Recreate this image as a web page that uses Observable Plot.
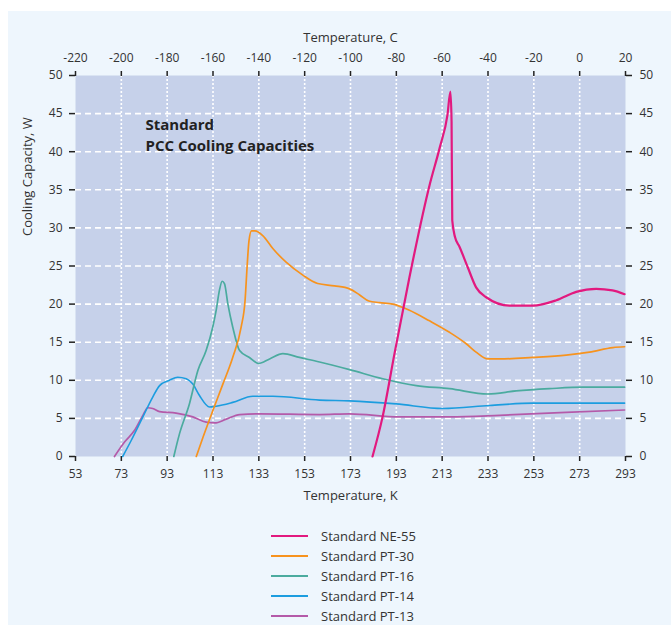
<!DOCTYPE html>
<html>
<head>
<meta charset="utf-8">
<script src="https://cdn.jsdelivr.net/npm/d3@7"></script>
<script src="https://cdn.jsdelivr.net/npm/@observablehq/plot@0.6"></script>
<style>
  html, body { margin: 0; padding: 0; background: #ffffff; }
  body { width: 671px; height: 625px; position: relative; overflow: hidden; font-family: "Open Sans", "Noto Sans", sans-serif; }
  #panel { position: absolute; left: 8px; top: 11px; width: 663px; height: 614px; background: #eef6fd; }
  #chart { position: absolute; left: 0; top: 0; }
  #legend { position: absolute; left: 271px; top: 526px; font-size: 13px; color: #333; }
  .item { display: flex; align-items: center; height: 20px; }
  .item span.lbl { line-height: 14px; }
  .sw { width: 37px; height: 2.5px; margin-right: 13px; }
</style>
</head>
<body>
<div id="panel"></div>
<div id="chart"></div>
<div id="legend"></div>
<script>
// Temperature axis ticks (Kelvin) and capacity ticks (W)
const kelvinTicks = [53, 73, 93, 113, 133, 153, 173, 193, 213, 233, 253, 273, 293];
const wattTicks = [0, 5, 10, 15, 20, 25, 30, 35, 40, 45, 50];

const seriesNames = ["Standard NE-55", "Standard PT-30", "Standard PT-16", "Standard PT-14", "Standard PT-13"];
const seriesColors = ["#e2197f", "#f7931e", "#4bab9f", "#1c9ddf", "#b45aa9"];

// Standard NE-55
const ne55K = [182.6, 187.0, 192.2, 198.7, 207.5, 212.0, 215.3, 216.6, 217.1, 217.4, 218.6, 220.6, 224.2, 227.8, 232.2, 242.4, 252.5, 262.8, 271.5, 280.2, 287.3, 292.6];
const ne55W = [0, 5.2, 13.5, 23.5, 35.6, 40.6, 44.8, 47.9, 44.0, 31.0, 28.8, 27.5, 24.8, 22.2, 20.9, 19.8, 19.8, 20.5, 21.6, 22.0, 21.8, 21.3];

// Standard PT-30
const pt30K = [105.7, 108.6, 112.9, 117.3, 121.6, 125.3, 127.0, 127.9, 128.7, 129.8, 131.3, 134.7, 139.1, 144.9, 152.2, 158.7, 166.0, 172.6, 177.0, 181.0, 185.7, 191.5, 198.7, 207.5, 216.2, 223.5, 227.8, 232.9, 238.0, 252.5, 267.1, 277.3, 287.5, 292.6];
const pt30W = [0, 2.5, 6.0, 9.5, 13.0, 17.0, 20.5, 25.0, 28.3, 29.6, 29.6, 29.0, 27.3, 25.5, 23.8, 22.7, 22.4, 22.0, 21.2, 20.4, 20.2, 20.0, 19.2, 17.8, 16.3, 14.8, 13.7, 12.8, 12.8, 13.0, 13.3, 13.7, 14.3, 14.4];

// Standard PT-16
const pt16K = [95.9, 98.4, 102.7, 106.4, 110.0, 112.9, 114.4, 115.8, 117.0, 118.0, 119.5, 121.6, 124.6, 128.9, 132.9, 137.7, 143.5, 150.7, 159.5, 172.6, 187.1, 201.7, 216.2, 232.9, 245.3, 259.8, 274.4, 292.6];
const pt16W = [0, 3.0, 6.9, 11.3, 13.9, 17.0, 19.2, 21.8, 23.0, 22.7, 20.0, 17.0, 13.9, 13.0, 12.2, 12.8, 13.5, 13.0, 12.4, 11.4, 10.2, 9.3, 8.9, 8.2, 8.6, 8.9, 9.1, 9.1];

// Standard PT-14
const pt14K = [73.6, 77.3, 82.4, 86.7, 89.7, 94.0, 97.6, 101.3, 104.2, 107.1, 111.5, 114.4, 121.6, 130.4, 139.1, 159.5, 172.6, 192.9, 213.3, 233.7, 252.5, 292.6];
const pt14W = [0, 2.1, 5.2, 7.8, 9.3, 10.0, 10.4, 10.2, 9.5, 8.0, 6.5, 6.6, 7.1, 7.9, 7.9, 7.4, 7.3, 6.9, 6.3, 6.7, 7.0, 7.0];

// Standard PT-13
const pt13K = [70.0, 74.4, 78.7, 82.4, 84.5, 86.7, 89.7, 96.9, 104.2, 110.0, 113.7, 118.8, 124.6, 133.3, 159.5, 172.6, 194.2, 216.2, 238.0, 267.1, 292.6];
const pt13W = [0, 1.9, 3.4, 5.4, 6.4, 6.3, 5.9, 5.7, 5.2, 4.5, 4.4, 4.9, 5.5, 5.6, 5.5, 5.6, 5.2, 5.2, 5.4, 5.8, 6.1];

const seriesK = [ne55K, pt30K, pt16K, pt14K, pt13K];
const seriesW = [ne55W, pt30W, pt16W, pt14W, pt13W];
const seriesWidth = [2.2, 1.7, 1.7, 1.6, 1.7];

const lineMarks = seriesNames.map((name, s) => {
  const rows = seriesK[s].map((k, i) => ({K: k, W: seriesW[s][i]}));
  return Plot.line(rows, {x: "K", y: "W", stroke: seriesColors[s], strokeWidth: seriesWidth[s], curve: "monotone-x"});
}).reverse();

const fontFam = '"Open Sans", "Noto Sans", sans-serif';

const chart = Plot.plot({
  width: 671,
  height: 515,
  marginLeft: 75,
  marginRight: 46,
  marginTop: 75,
  marginBottom: 59,
  x: {domain: [53, 293]},
  y: {domain: [0, 50]},
  style: {background: "transparent", fontFamily: fontFam, fontSize: "12px", color: "#333", overflow: "visible"},
  marks: [
    Plot.frame({fill: "#c6d1ea", stroke: null}),
    Plot.gridX(kelvinTicks.slice(1, -1), {stroke: "#ffffff", strokeOpacity: 1, strokeWidth: 1.6, strokeDasharray: "2,2"}),
    Plot.gridY(wattTicks.slice(1, -1), {stroke: "#ffffff", strokeOpacity: 1, strokeWidth: 1.6, strokeDasharray: "6,4"}),
    Plot.axisX(kelvinTicks, {anchor: "bottom", tickSize: 5, tickPadding: 8, label: null, stroke: "#222", strokeWidth: 1.5, fill: "#333"}),
    Plot.axisX(kelvinTicks, {anchor: "top", tickSize: 5, tickPadding: 9, tickFormat: d => d - 273, label: null, stroke: "#222", strokeWidth: 1.5, fill: "#333"}),
    Plot.axisY(wattTicks, {anchor: "left", tickSize: 6, tickPadding: 7, label: null, stroke: "#222", strokeWidth: 1.5, fill: "#333"}),
    Plot.axisY(wattTicks, {anchor: "right", tickSize: 6, tickPadding: 8, label: null, stroke: "#222", strokeWidth: 1.5, fill: "#333"}),
    ...lineMarks,
    Plot.text(["Standard\nPCC Cooling Capacities"], {frameAnchor: "top-left", textAnchor: "start", lineAnchor: "top", dx: 70, dy: 40, lineHeight: 1.4, fontSize: 15, fontWeight: "bold", fill: "#222"}),
    Plot.text(["Temperature, K"], {frameAnchor: "bottom", lineAnchor: "middle", dy: 39, fontSize: 13, fill: "#333"}),
    Plot.text(["Temperature, C"], {frameAnchor: "top", lineAnchor: "middle", dy: -38, fontSize: 13, fill: "#333"}),
    Plot.text(["Cooling Capacity, W"], {frameAnchor: "left", rotate: -90, lineAnchor: "middle", dx: -48, dy: -30, fontSize: 13, fill: "#333"})
  ]
});
document.getElementById("chart").appendChild(chart);

const legend = document.getElementById("legend");
seriesNames.forEach((name, i) => {
  const item = document.createElement("div");
  item.className = "item";
  const sw = document.createElement("span");
  sw.className = "sw";
  sw.style.background = seriesColors[i];
  const label = document.createElement("span");
  label.className = "lbl";
  label.textContent = name;
  item.appendChild(sw);
  item.appendChild(label);
  legend.appendChild(item);
});
</script>
</body>
</html>
